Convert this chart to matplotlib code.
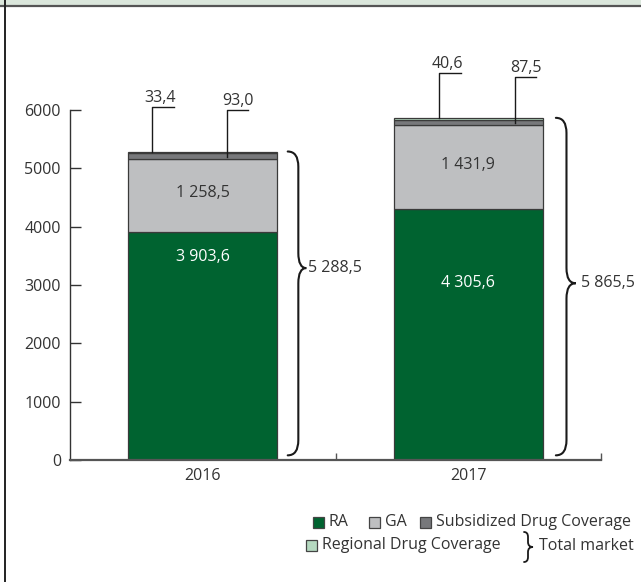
import matplotlib
matplotlib.use("Agg")
import matplotlib.pyplot as plt
from matplotlib.path import Path
from matplotlib.patches import PathPatch, Rectangle
import numpy as np

plt.rcParams["font.family"] = ["Open Sans", "DejaVu Sans"]
FS = 11.5

# data
years = ["2016", "2017"]
ra = [3903.6, 4305.6]
ga = [1258.5, 1431.9]
subsidized = [93.0, 87.5]
regional = [33.4, 40.6]
totals = [5288.5, 5865.5]

# colours
c_ra = "#006330"
c_ga = "#bebfc1"
c_sub = "#77787b"
c_reg = "#b5d9c0"
c_edge = "#3a3a3a"
c_text = "#333333"


def fmt(v):
    return f"{v:,.1f}".replace(",", " ").replace(".", ",")


def brace(ax, x_hook, x_spine, x_tip, y0, y1, ym, r, lw=1.5):
    verts = [
        (x_hook, y1), (x_spine, y1), (x_spine, y1 - r),
        (x_spine, ym + r),
        (x_spine, ym), (x_tip, ym),
        (x_spine, ym), (x_spine, ym - r),
        (x_spine, y0 + r),
        (x_spine, y0), (x_hook, y0),
    ]
    codes = [Path.MOVETO, Path.CURVE3, Path.CURVE3,
             Path.LINETO,
             Path.CURVE3, Path.CURVE3,
             Path.CURVE3, Path.CURVE3,
             Path.LINETO,
             Path.CURVE3, Path.CURVE3]
    ax.add_patch(PathPatch(Path(verts, codes), fill=False, lw=lw,
                           edgecolor="#1a1a1a", capstyle="round", clip_on=False))


W, H = 641, 582
fig = plt.figure(figsize=(W / 100, H / 100), dpi=100)

ax_left, ax_right, ax_bottom_px, ax_top_px = 70, 601, 460, 30
ax = fig.add_axes([ax_left / W, 1 - ax_bottom_px / H,
                   (ax_right - ax_left) / W, (ax_bottom_px - ax_top_px) / H])

x = np.arange(len(years))
bw = 0.56
bottom = np.zeros(len(years))
for vals, col in [(ra, c_ra), (ga, c_ga), (subsidized, c_sub), (regional, c_reg)]:
    ax.bar(x, vals, bw, bottom=bottom, color=col, edgecolor=c_edge, linewidth=0.9)
    bottom = bottom + np.array(vals)

ymax = 6000 * (ax_bottom_px - ax_top_px) / 350
ax.set_ylim(0, ymax)
ax.set_xlim(-0.5, 1.5)

for s in ["top", "right"]:
    ax.spines[s].set_visible(False)
ax.spines["left"].set_bounds(0, 6000)
ax.spines["left"].set_color(c_text)
ax.spines["left"].set_linewidth(1.0)
ax.spines["bottom"].set_color("#555555")
ax.spines["bottom"].set_linewidth(1.6)

ax.set_yticks(range(0, 6001, 1000))
ax.tick_params(axis="y", direction="in", length=8, width=1, colors=c_text,
               labelsize=FS, pad=6.5)
ax.set_xticks(x)
ax.set_xticklabels(years)
ax.tick_params(axis="x", length=0, labelsize=FS, colors=c_text, pad=6)
ax.set_xticks([0.5, 1.5], minor=True)
ax.tick_params(axis="x", which="minor", direction="in", length=5, width=1,
               color="#555555")

# labels inside bars
ra_label_y = [3480, 3030]
for i in range(len(years)):
    ax.text(x[i], ra_label_y[i], fmt(ra[i]), ha="center", va="center",
            color="white", fontsize=FS)
    ax.text(x[i], ra[i] + ga[i] / 2 + 40, fmt(ga[i]), ha="center", va="center",
            color=c_text, fontsize=FS)

# leader lines for the thin segments
reg_leader_x = [-0.19, -0.109]
reg_leader_y = [6050, 6630]
sub_leader_x = [0.092, 0.177]
sub_leader_y = [6000, 6570]
seg = 0.08
for i in range(len(years)):
    lx, ly = x[i] + reg_leader_x[i], reg_leader_y[i]
    ax.plot([lx, lx, lx + seg], [totals[i] - 10, ly, ly], color="#1a1a1a", lw=1)
    ax.text(lx + seg / 2 - 0.01, ly + 20, fmt(regional[i]), ha="center",
            va="bottom", color=c_text, fontsize=FS)
    sx, sy = x[i] + sub_leader_x[i], sub_leader_y[i]
    ax.plot([sx, sx, sx + seg], [ra[i] + ga[i] + subsidized[i] * 0.4, sy, sy],
            color="#1a1a1a", lw=1)
    ax.text(sx + seg / 2, sy + 20, fmt(subsidized[i]), ha="center",
            va="bottom", color=c_text, fontsize=FS)

# total braces
brace_mid = [3290, 3030]
brace_hook = [0.32, 0.33]
brace_spine = [0.36, 0.37]
brace_tip = [0.39, 0.405]
total_label_x = [0.398, 0.425]
for i in range(len(years)):
    brace(ax, x[i] + brace_hook[i], x[i] + brace_spine[i], x[i] + brace_tip[i],
          80, totals[i], brace_mid[i], 260)
    ax.text(x[i] + total_label_x[i], brace_mid[i], fmt(totals[i]), ha="left",
            va="center", color=c_text, fontsize=FS)

# overlay in pixel coordinates: frame and legend
ov = fig.add_axes([0, 0, 1, 1], facecolor="none")
ov.set_xlim(0, W)
ov.set_ylim(H, 0)
ov.axis("off")
ov.add_patch(Rectangle((0, 0), W, 5.5, color="#dbe7dc", lw=0))
ov.plot([0, W], [6.2, 6.2], color="#555555", lw=1.6)
ov.plot([5, 5], [0, H], color="#222222", lw=1.4)

legend_items = [
    ("RA", c_ra, 313, 522),
    ("GA", c_ga, 369, 522),
    ("Subsidized Drug Coverage", c_sub, 420, 522),
    ("Regional Drug Coverage", c_reg, 306, 545),
]
for label, col, lx, ly in legend_items:
    ov.add_patch(Rectangle((lx, ly - 5.5), 11, 11, facecolor=col,
                           edgecolor="#444444", lw=0.9))
    ov.text(lx + 16, ly, label, ha="left", va="center", color=c_text,
            fontsize=FS)
brace(ov, 524, 528, 533, 532, 562, 547, 5, lw=1.3)
ov.text(539, 546, "Total market", ha="left", va="center", color=c_text,
        fontsize=FS)

fig.savefig("out.png", dpi=100)
